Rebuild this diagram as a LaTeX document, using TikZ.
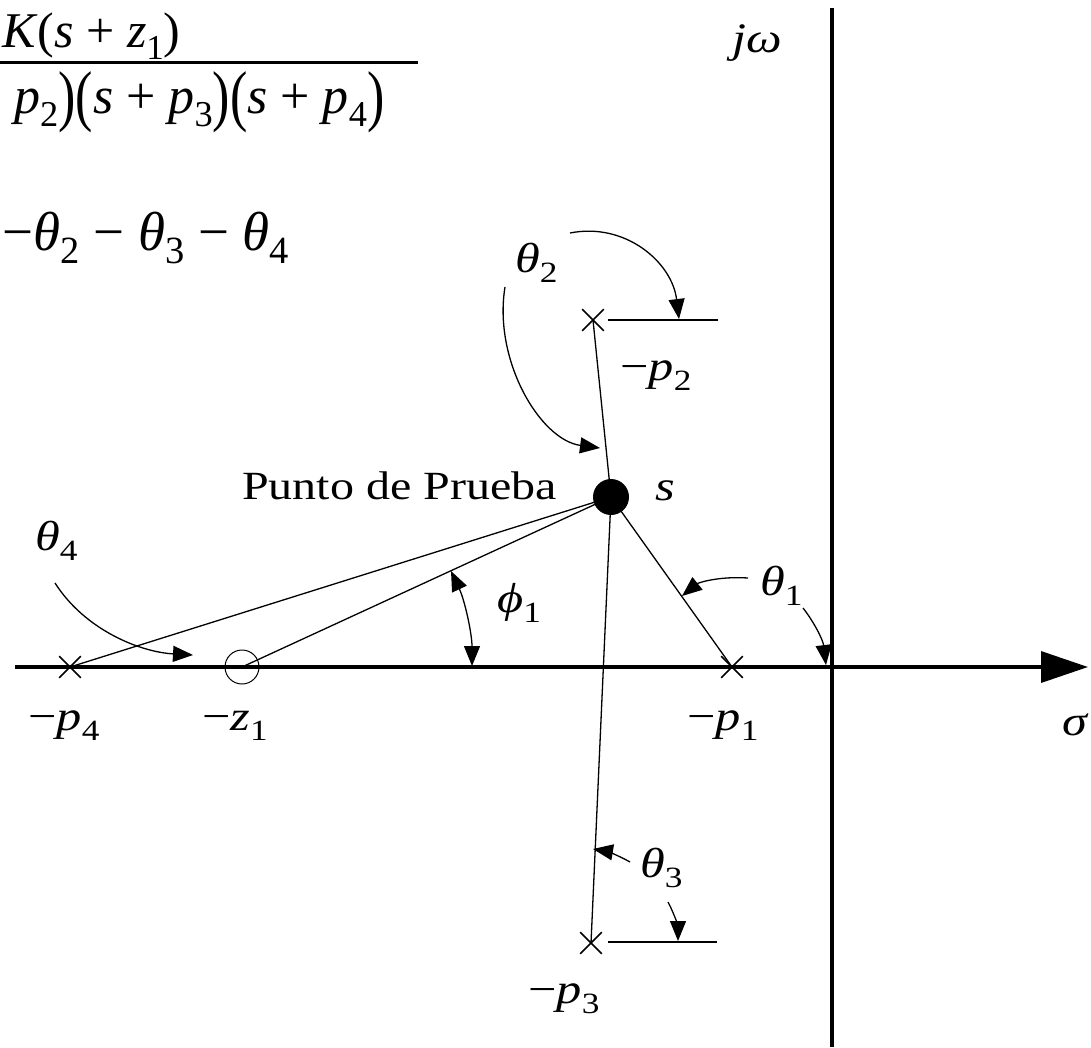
\documentclass[tikz,border=0pt]{standalone}
\usepackage{fontspec}
\setmainfont{Liberation Serif}
\usetikzlibrary{arrows.meta,shapes.misc}
\newcommand{\sbs}[1]{\raisebox{-0.25em}{\scalebox{0.7}{\upshape #1}}}
\newcommand{\mi}[1]{\textit{#1}}
\newcommand{\hst}[1]{\scalebox{1.2}[1]{#1}}
\newcommand{\tp}[1]{\raisebox{-0.1em}{\scalebox{1}[1.3]{#1}}}
\begin{document}
\begin{tikzpicture}[x=1pt,y=-1pt,
  ray/.style={line width=1.3pt},
  axisline/.style={line width=3.5pt},
  tipped/.style={line width=1.3pt,-{Triangle[length=20pt,width=16pt]}},
  lbl/.style={inner sep=0pt, anchor=base west, font=\fontsize{42}{50}\selectfont},
  big/.style={inner sep=0pt, anchor=base west, font=\fontsize{52}{62}\selectfont},
  pole/.style={cross out, draw, line width=1.6pt, minimum size=20pt, inner sep=0pt},
]
\useasboundingbox (0,0) rectangle (1091,1047);

% axes
\coordinate (xl) at (15,667);
\coordinate (xr) at (1088,667);
\coordinate (yt) at (832,8);
\coordinate (yb) at (832,1047);
\draw[axisline] (yb) -- (yt);
\draw[axisline,-{Triangle[length=47pt,width=31pt]}] (xl) -- (xr);

% poles and zero
\node[pole] (p1) at (732,667) {};
\node[pole] (p2) at (593,320) {};
\node[pole] (p3) at (591,943) {};
\node[pole] (p4) at (70,667) {};
\node[circle, draw, line width=1pt, minimum size=34pt, inner sep=0pt] (z1) at (242,667) {};
\coordinate (s) at (611,497);

% rays to the test point
\draw[ray] (p1.center) -- (s);
\draw[ray] (p2.center) -- (s);
\draw[ray] (p3.center) -- (s);
\draw[ray] (p4.center) -- (s);
\draw[ray] (z1.center) -- (s);
\node[circle, fill, minimum size=36pt, inner sep=0pt] (sdot) at (s) {};

% horizontal reference lines
\coordinate (h2a) at (608,320); \coordinate (h2b) at (718,320);
\coordinate (h3a) at (608,942); \coordinate (h3b) at (717,942);
\draw[ray] (h2a) -- (h2b);
\draw[ray] (h3a) -- (h3b);

% angle arrows
\coordinate (a1s) at (748,578); \coordinate (a1e) at (682,596);
\draw[tipped] (a1s) .. controls (718,576) and (698,583) .. (a1e);
\coordinate (b1s) at (803,608); \coordinate (b1e) at (826,665);
\draw[tipped] (b1s) .. controls (814,622) and (823,640) .. (b1e);
\coordinate (a2s) at (570,233); \coordinate (a2e) at (679,319);
\draw[tipped] (a2s) .. controls (625,222) and (672,262) .. (a2e);
\coordinate (b2s) at (505,287); \coordinate (b2e) at (600,448);
\draw[tipped] (b2s) .. controls (493,360) and (540,440) .. (b2e);
\coordinate (a3s) at (630,862); \coordinate (a3e) at (593,849);
\draw[tipped] (a3s) .. controls (618,855) and (605,851) .. (a3e);
\coordinate (b3s) at (668,902); \coordinate (b3e) at (678,941);
\draw[tipped] (b3s) .. controls (675,915) and (678,928) .. (b3e);
\coordinate (a4s) at (55,583); \coordinate (a4e) at (193,655);
\draw[tipped] (a4s) .. controls (85,630) and (140,652) .. (a4e);
\coordinate (phs) at (451,571); \coordinate (phe) at (472,666);
\draw[line width=1.3pt,{Triangle[length=20pt,width=16pt]}-{Triangle[length=20pt,width=16pt]}] (phs) .. controls (465,601) and (472,634) .. (phe);

% labels
\node[lbl] (th1) at (760,595) {\hst{\mi{θ}\sbs{1}}};
\node[lbl] (th2) at (515,272) {\hst{\mi{θ}\sbs{2}}};
\node[lbl] (th3) at (640,877) {\hst{\mi{θ}\sbs{3}}};
\node[lbl] (th4) at (35,550) {\hst{\mi{θ}\sbs{4}}};
\node[lbl] (ph1) at (497,612) {\hst{\mi{ϕ}\sbs{1}}};
\node[lbl] (mp1) at (687,730) {\hst{−\mi{p}\sbs{1}}};
\node[lbl] (mp2) at (620,380) {\hst{−\mi{p}\sbs{2}}};
\node[lbl] (mp3) at (528,1003) {\hst{−\mi{p}\sbs{3}}};
\node[lbl] (mp4) at (28,730) {\hst{−\mi{p}\sbs{4}}};
\node[lbl] (mz1) at (202,730) {\hst{−\mi{z}\sbs{1}}};
\node[lbl] (slbl) at (655,500) {\hst{\mi{s}}};
\node[lbl] (jw) at (732,52) {\hst{\mi{jω}}};
\node[lbl] (sig) at (1062,735) {\hst{\mi{σ}}};
\node[lbl, font=\fontsize{40}{48}\selectfont] (punto) at (242,499) {\hst{Punto de Prueba}};

% transfer function
\node[big, font=\fontsize{50}{60}\selectfont] (num) at (2,47) {\mi{K}(\mi{s} + \mi{z}\sbs{1})};
\coordinate (bar1) at (0,62); \coordinate (bar2) at (418,62);
\draw[line width=3pt] (bar1) -- (bar2);
\node[big] (den) at (14,113) {\mi{p}\sbs{2}\tp{)}\tp{(}\mi{s} + \mi{p}\sbs{3}\tp{)}\tp{(}\mi{s} + \mi{p}\sbs{4}\tp{)}};
\node[big, font=\fontsize{55}{66}\selectfont] (ang) at (2,250) {−\mi{θ}\sbs{2} − \mi{θ}\sbs{3} − \mi{θ}\sbs{4}};
\end{tikzpicture}
\end{document}
